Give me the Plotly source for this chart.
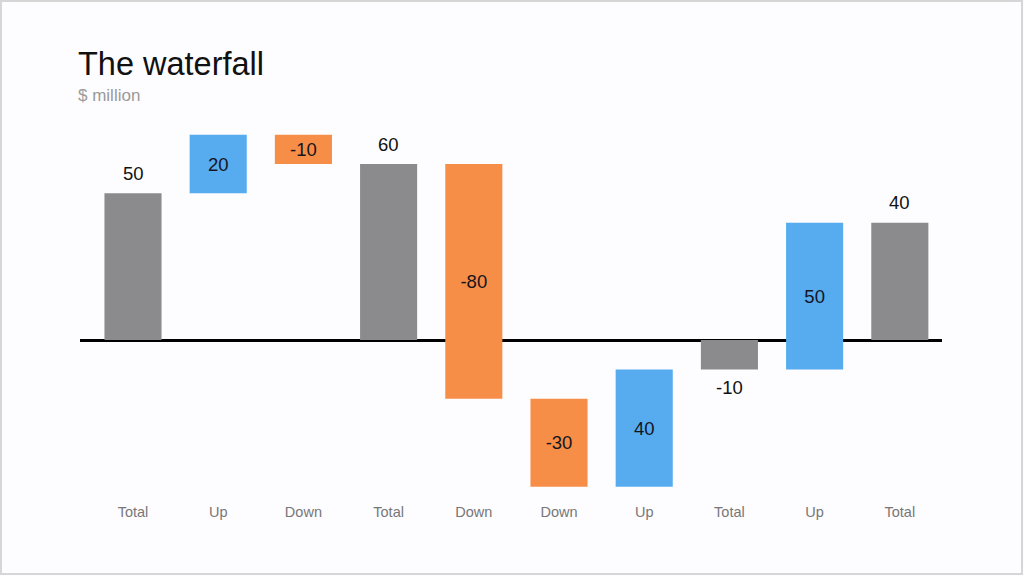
import plotly.graph_objects as go

# categories and values ($ million)
categories = ["Total", "Up", "Down", "Total", "Down", "Down", "Up", "Total", "Up", "Total"]
values = [50, 20, -10, 60, -80, -30, 40, -10, 50, 40]
measures = ["absolute", "relative", "relative", "absolute", "relative",
            "relative", "relative", "absolute", "relative", "absolute"]

GRAY = "#8b8a8c"
BLUE = "#56acef"
ORANGE = "#f68e47"
FONT = "Liberation Sans, Arial, sans-serif"

W, H = 1024, 576
ML, MR, MT, MB = 80, 82, 130, 79

# moves get their label inside the bar; totals are labelled with annotations below
text_pos = ["none" if m == "absolute" else "inside" for m in measures]

fig = go.Figure()
fig.add_trace(go.Waterfall(
    x=list(range(len(categories))),
    y=values,
    measure=measures,
    text=[str(v) for v in values],
    textinfo="text",
    textposition=text_pos,
    insidetextanchor="middle",
    textfont=dict(family=FONT, size=18.5, color="#15151f"),
    increasing=dict(marker=dict(color=BLUE)),
    decreasing=dict(marker=dict(color=ORANGE)),
    totals=dict(marker=dict(color=GRAY)),
    connector=dict(visible=False),
    cliponaxis=False,
    hoverinfo="skip",
))

plot_w = W - ML - MR
plot_h = H - MT - MB

# labels for total bars, just outside the bar end
annotations = []
for i, (v, m) in enumerate(zip(values, measures)):
    if m != "absolute":
        continue
    annotations.append(dict(
        x=i, y=v, text=str(v), showarrow=False,
        yshift=20 if v >= 0 else -18,
        font=dict(family=FONT, size=18.5, color="#111111"),
    ))

annotations += [
    dict(text="The waterfall", xref="paper", yref="paper",
         x=-4 / plot_w, y=1 + (MT - 64) / plot_h, xanchor="left", yanchor="middle",
         showarrow=False, font=dict(family=FONT, size=32.5, color="#111111")),
    dict(text="$ million", xref="paper", yref="paper",
         x=-4 / plot_w, y=1 + (MT - 95) / plot_h, xanchor="left", yanchor="middle",
         showarrow=False, font=dict(family=FONT, size=17, color="#9a9a9a")),
]

fig.update_layout(
    width=W, height=H,
    margin=dict(l=ML, r=MR, t=MT, b=MB),
    paper_bgcolor="#fdfcfe",
    plot_bgcolor="rgba(0,0,0,0)",
    showlegend=False,
    waterfallgap=0.33,
    font=dict(family=FONT),
    xaxis=dict(
        tickmode="array",
        tickvals=list(range(len(categories))),
        ticktext=categories,
        range=[-0.622, 9.495],
        showgrid=False, zeroline=False, showline=False,
        ticks="",
        tickfont=dict(size=14.5, color="#777777"),
        ticklabelstandoff=4,
    ),
    yaxis=dict(
        range=[-53.5, 71.6],
        showgrid=False,
        showticklabels=False,
        zeroline=True, zerolinecolor="#000000", zerolinewidth=3,
        showline=False, ticks="",
    ),
    annotations=annotations,
    shapes=[
        dict(type="rect", xref="paper", yref="paper", layer="below",
             x0=-(ML - 1) / plot_w, x1=1 + (MR - 2) / plot_w,
             y0=-(MB - 2) / plot_h, y1=1 + (MT - 1) / plot_h,
             line=dict(color="#d6d6d6", width=2)),
    ],
)

# page has a default 8px body margin; drop it so the figure sits at the corner
fig.write_html("out.html", config=dict(displayModeBar=False),
               post_script="document.body.style.margin = '0';")
